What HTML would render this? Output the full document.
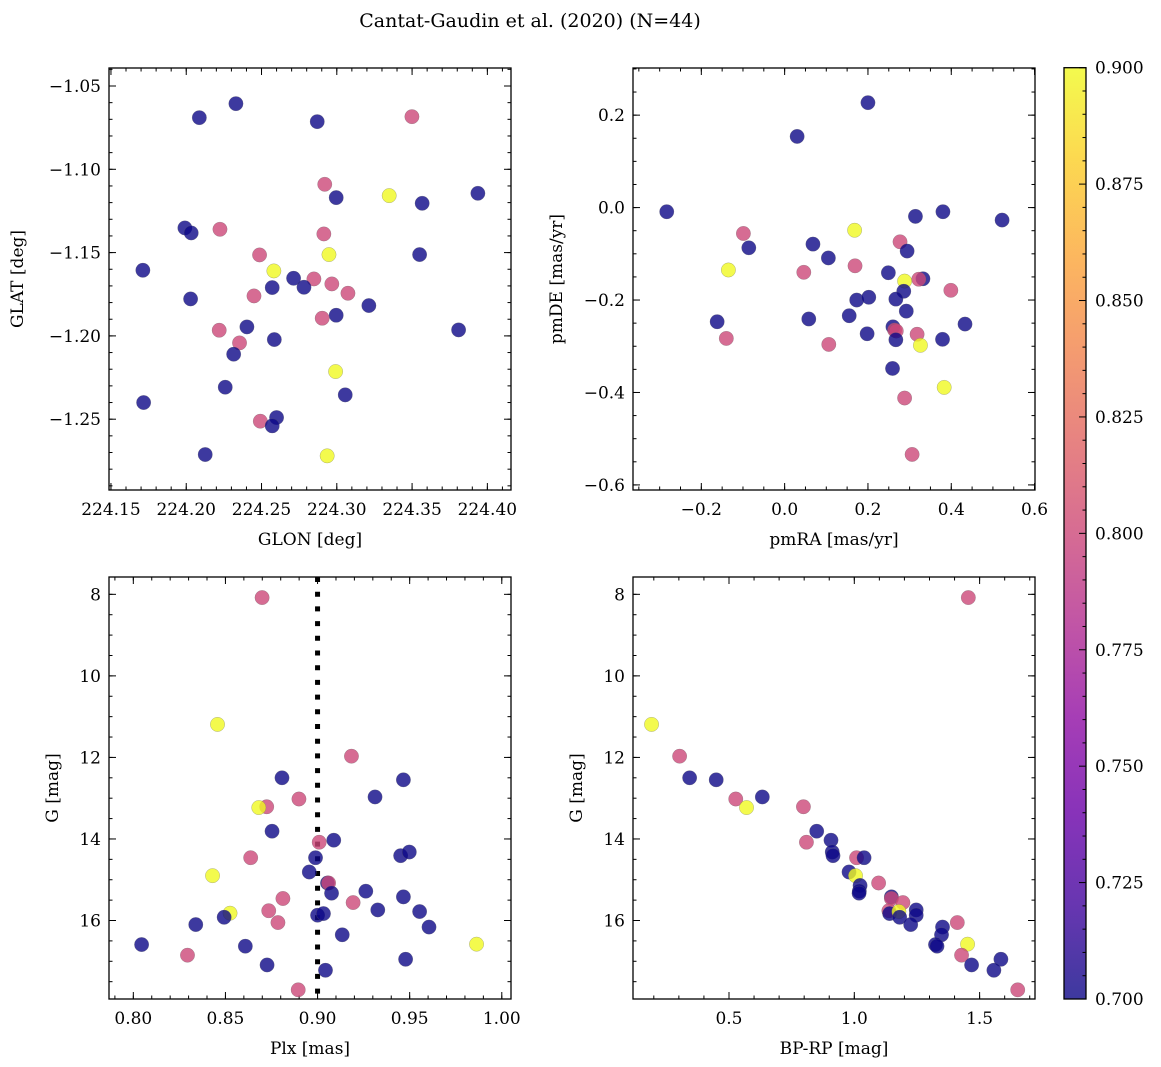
<!DOCTYPE html>
<html><head><meta charset="utf-8"><style>
body{margin:0;background:#fff}
svg{display:block;font-family:"DejaVu Serif","Liberation Serif",serif}
</style></head><body>
<svg id="fig" width="1161" height="1067" viewBox="0 0 1161 1067">
<defs>
<linearGradient id="plasma" x1="0" y1="1" x2="0" y2="0">
<stop offset="0" stop-color="#0d0887"/><stop offset="0.1" stop-color="#41049d"/><stop offset="0.2" stop-color="#6a00a8"/><stop offset="0.3" stop-color="#8f0da4"/><stop offset="0.4" stop-color="#b12a90"/><stop offset="0.5" stop-color="#cc4778"/><stop offset="0.6" stop-color="#e16462"/><stop offset="0.7" stop-color="#f2844b"/><stop offset="0.8" stop-color="#fca636"/><stop offset="0.9" stop-color="#fcce25"/><stop offset="1" stop-color="#f0f921"/>
</linearGradient>
</defs>
<text x="530" y="27" text-anchor="middle" font-size="19">Cantat-Gaudin et al. (2020) (N=44)</text>
</svg>
<script>
// Panel 1: GLON / GLAT
const p1x=[224.2087,224.233,224.287,224.3499,224.292,224.2996,224.3348,224.3567,224.3937,224.1991,224.2033,224.2224,224.2914,224.2487,224.2948,224.355,224.1712,224.2582,224.2713,224.2848,224.2571,224.2782,224.2967,224.3074,224.245,224.2029,224.3213,224.2996,224.2903,224.2403,224.2219,224.3809,224.2585,224.2354,224.2315,224.2992,224.3056,224.2259,224.1717,224.2492,224.26,224.2571,224.2126,224.2936];
const p1y=[-1.069,-1.0606,-1.0714,-1.0684,-1.109,-1.117,-1.1158,-1.1204,-1.1144,-1.1352,-1.1382,-1.136,-1.1388,-1.1514,-1.1512,-1.1512,-1.1606,-1.161,-1.1654,-1.1658,-1.171,-1.1708,-1.1688,-1.1744,-1.176,-1.1778,-1.1818,-1.1876,-1.1894,-1.1946,-1.1966,-1.1964,-1.2022,-1.2042,-1.211,-1.2214,-1.2354,-1.2308,-1.24,-1.2512,-1.249,-1.254,-1.2712,-1.272];
const p1c=[.7,.7,.7,.8,.8,.7,.9,.7,.7,.7,.7,.8,.8,.8,.9,.7,.7,.9,.7,.8,.7,.7,.8,.8,.8,.7,.7,.7,.8,.7,.8,.7,.7,.8,.7,.9,.7,.7,.7,.8,.7,.7,.7,.9];
// Panel 2: pmRA / pmDE
const p2x=[0.200,0.030,-0.283,0.314,0.380,0.522,0.168,-0.099,-0.086,0.068,0.277,0.294,0.105,-0.135,0.169,0.046,0.249,0.332,0.322,0.288,0.286,0.399,0.173,0.202,0.267,0.292,0.155,-0.162,0.058,0.433,0.260,0.264,0.268,0.198,0.318,0.267,0.379,-0.140,0.106,0.326,0.259,0.383,0.288,0.306];
const p2y=[0.227,0.154,-0.009,-0.019,-0.009,-0.027,-0.049,-0.056,-0.087,-0.079,-0.074,-0.094,-0.109,-0.135,-0.126,-0.140,-0.141,-0.154,-0.155,-0.159,-0.181,-0.179,-0.200,-0.194,-0.198,-0.224,-0.234,-0.247,-0.241,-0.252,-0.258,-0.265,-0.267,-0.273,-0.274,-0.286,-0.285,-0.283,-0.296,-0.298,-0.348,-0.389,-0.412,-0.534];
const p2c=[.7,.7,.7,.7,.7,.7,.9,.8,.7,.7,.8,.7,.7,.9,.8,.8,.7,.7,.8,.9,.7,.8,.7,.7,.7,.7,.7,.7,.7,.7,.7,.8,.8,.7,.8,.7,.7,.8,.8,.9,.7,.9,.8,.8];
// Panel 3: Plx / G
const p3x=[0.8699,0.8457,0.9184,0.8807,0.9466,0.9312,0.8899,0.8724,0.8681,0.8753,0.9088,0.9009,0.8637,0.8989,0.9451,0.9498,0.843,0.8955,0.9054,0.906,0.9076,0.9262,0.9466,0.8812,0.9193,0.8735,0.9327,0.9554,0.8525,0.8493,0.8785,0.90,0.9032,0.9605,0.8339,0.9134,0.8045,0.8608,0.9863,0.8294,0.9478,0.8726,0.9043,0.8895];
const p3y=[8.08,11.19,11.97,12.50,12.55,12.97,13.02,13.21,13.23,13.81,14.03,14.08,14.46,14.46,14.41,14.32,14.90,14.81,15.08,15.08,15.33,15.28,15.42,15.46,15.56,15.76,15.74,15.78,15.82,15.92,16.05,15.87,15.83,16.16,16.10,16.35,16.59,16.63,16.58,16.85,16.95,17.09,17.22,17.70];
const p3c=[.8,.9,.8,.7,.7,.7,.8,.8,.9,.7,.7,.8,.8,.7,.7,.7,.9,.7,.7,.8,.7,.7,.7,.8,.8,.8,.7,.7,.9,.7,.8,.7,.7,.7,.7,.7,.7,.7,.9,.8,.7,.7,.7,.8];
// Panel 4: BP-RP / G
const p4x=[1.455,0.191,0.303,0.343,0.449,0.633,0.527,0.570,0.797,0.850,0.907,0.809,0.912,0.915,1.009,1.039,0.979,1.005,1.023,1.020,1.019,1.097,1.148,1.148,1.194,1.138,1.141,1.247,1.247,1.178,1.181,1.225,1.352,1.348,1.411,1.324,1.330,1.452,1.428,1.585,1.468,1.557,1.652];
const p4y=[8.08,11.19,11.97,12.50,12.55,12.97,13.02,13.23,13.21,13.81,14.03,14.08,14.32,14.41,14.46,14.46,14.81,14.90,15.14,15.28,15.33,15.08,15.42,15.46,15.56,15.76,15.83,15.74,15.87,15.78,15.92,16.10,16.16,16.35,16.05,16.59,16.63,16.58,16.85,16.95,17.09,17.22,17.70];
const p4c=[.8,.9,.8,.7,.7,.7,.8,.9,.8,.7,.7,.8,.7,.7,.8,.7,.7,.9,.7,.7,.7,.8,.7,.8,.8,.8,.7,.7,.7,.9,.7,.7,.7,.7,.8,.7,.7,.9,.8,.7,.7,.7,.8];
const p1xt=[224.15,224.20,224.25,224.30,224.35,224.40];
const p1yt=[-1.05,-1.10,-1.15,-1.20,-1.25];
const p2xt=[-0.2,0.0,0.2,0.4,0.6];
const p2yt=[0.2,0.0,-0.2,-0.4,-0.6];
const p3xt=[0.80,0.85,0.90,0.95,1.00];
const p4xt=[0.5,1.0,1.5];
const gyt=[8,10,12,14,16];
const cbt=[0.700,0.725,0.750,0.775,0.800,0.825,0.850,0.875,0.900];
const plxRef=0.90;

const NS="http://www.w3.org/2000/svg";
const svg=document.getElementById('fig');
function mk(tag,attrs,parent){const e=document.createElementNS(NS,tag);for(const k in attrs)e.setAttribute(k,attrs[k]);(parent||svg).appendChild(e);return e;}
const stops=["#0d0887","#41049d","#6a00a8","#8f0da4","#b12a90","#cc4778","#e16462","#f2844b","#fca636","#fcce25","#f0f921"];
function h2r(h){return [1,3,5].map(i=>parseInt(h.substr(i,2),16));}
function plasma(v){let t=Math.max(0,Math.min(1,(v-0.7)/0.2))*10;const i=Math.min(9,Math.floor(t)),f=t-i;const a=h2r(stops[i]),b=h2r(stops[i+1]);return 'rgb('+a.map((x,k)=>Math.round(x+(b[k]-x)*f)).join(',')+')';}

function panel(o){
  const g=mk('g',{});
  
  
  const sx=v=>o.L+(v-o.x0)/(o.x1-o.x0)*(o.R-o.L);
  const sy=v=>o.T+(v-o.y0)/(o.y1-o.y0)*(o.B-o.T);
  // minor ticks
  const tg=mk('g',{stroke:'#000','stroke-width':1},g);
  
  
  function ticksX(step,len){const s=Math.ceil(Math.min(o.x0,o.x1)/step-1e-6);for(let k=s;k*step<=Math.max(o.x0,o.x1)+1e-9;k++){const x=sx(k*step);mk('line',{x1:x,x2:x,y1:o.B,y2:o.B-len},tg);mk('line',{x1:x,x2:x,y1:o.T,y2:o.T+len},tg);}}
  function ticksY(step,len){const lo=Math.min(o.y0,o.y1),hi=Math.max(o.y0,o.y1);const s=Math.ceil(lo/step-1e-6);for(let k=s;k*step<=hi+1e-9;k++){const y=sy(k*step);mk('line',{x1:o.L,x2:o.L+len,y1:y,y2:y},tg);mk('line',{x1:o.R,x2:o.R-len,y1:y,y2:y},tg);}}
  ticksX(o.xminor,3.5);ticksY(o.yminor,3.5);
  o.xt.forEach(v=>{const x=sx(v);mk('line',{x1:x,x2:x,y1:o.B,y2:o.B-7},tg);mk('line',{x1:x,x2:x,y1:o.T,y2:o.T+7},tg);
    const t=mk('text',{x:x,y:o.B+25,'text-anchor':'middle','font-size':17},g);t.textContent=o.xf(v).replace('-','\u2212');
    
    });
  o.yt.forEach(v=>{const y=sy(v);mk('line',{x1:o.L,x2:o.L+7,y1:y,y2:y},tg);mk('line',{x1:o.R,x2:o.R-7,y1:y,y2:y},tg);
    const t=mk('text',{x:o.L-8,y:y+6,'text-anchor':'end','font-size':17},g);t.textContent=o.yf(v).replace('-','\u2212');
    
    });
  if(o.vline!==undefined){const l=mk('line',{x1:sx(o.vline),x2:sx(o.vline),y1:o.T,y2:o.B,stroke:'#000','stroke-width':5,'stroke-dasharray':'5 9.7'},g);
    
    }
  const pg=mk('g',{},g);
  
  
  o.xs.forEach((xv,i)=>{const c=mk('circle',{cx:sx(xv),cy:sy(o.ys[i]),r:7.2,fill:plasma(o.cs[i]),'fill-opacity':0.8,stroke:'#666','stroke-opacity':0.5,'stroke-width':0.5},pg);
    
    });
  const fr=mk('rect',{x:o.L,y:o.T,width:o.R-o.L,height:o.B-o.T,fill:'none',stroke:'#000','stroke-width':1.3},g);
  
  
  const xl=mk('text',{x:(o.L+o.R)/2,y:o.B+55,'text-anchor':'middle','font-size':17},g);xl.textContent=o.xlab;
  
  
  const yl=mk('text',{x:0,y:0,'text-anchor':'middle','font-size':17,transform:'translate('+o.ylx+','+(o.T+o.B)/2+') rotate(-90)'},g);yl.textContent=o.ylab;
  
  
}
const f2=v=>v.toFixed(2), f1=v=>v.toFixed(1), f0=v=>v.toFixed(0);
panel({name:'glon-glat-panel',L:109,R:511,T:68,B:490,x0:224.1487,x1:224.4157,y0:-1.0392,y1:-1.2925,xs:p1x,ys:p1y,cs:p1c,xt:p1xt,yt:p1yt,xminor:0.01,yminor:0.01,xf:f2,yf:f2,xlab:'GLON [deg]',ylab:'GLAT [deg]',ylx:23});
panel({name:'pm-panel',L:633,R:1035,T:68,B:490,x0:-0.364,x1:0.601,y0:0.302,y1:-0.611,xs:p2x,ys:p2y,cs:p2c,xt:p2xt,yt:p2yt,xminor:0.05,yminor:0.05,xf:f1,yf:f1,xlab:'pmRA [mas/yr]',ylab:'pmDE [mas/yr]',ylx:562});
panel({name:'plx-g-panel',L:109,R:511,T:577,B:999,x0:0.7868,x1:1.0050,y0:7.575,y1:17.925,xs:p3x,ys:p3y,cs:p3c,xt:p3xt,yt:gyt,xminor:0.01,yminor:0.5,xf:f2,yf:f0,xlab:'Plx [mas]',ylab:'G [mag]',ylx:58,vline:plxRef});
panel({name:'cmd-panel',L:633,R:1035,T:577,B:999,x0:0.117,x1:1.721,y0:7.575,y1:17.925,xs:p4x,ys:p4y,cs:p4c,xt:p4xt,yt:gyt,xminor:0.1,yminor:0.5,xf:f1,yf:f0,xlab:'BP-RP [mag]',ylab:'G [mag]',ylx:582});
// colorbar
const cb=mk('g',{});


const CT=67.7,CB=999,CL=1064,CR=1086;
const cby=v=>CB-(v-0.7)/0.2*(CB-CT);
mk('rect',{x:CL,y:CT,width:CR-CL,height:CB-CT,fill:'url(#plasma)','fill-opacity':0.8},cb);
for(let k=0;k<=40;k++){const v=0.7+k*0.005,y=cby(v);const major=k%5===0;mk('line',{x1:CR,x2:CR-(major?7:3.5),y1:y,y2:y,stroke:'#000','stroke-width':1},cb);}
cbt.forEach(v=>{const t=mk('text',{x:1095,y:cby(v)+6,'font-size':17},cb);t.textContent=v.toFixed(3);
  
  });
mk('rect',{x:CL,y:CT,width:CR-CL,height:CB-CT,fill:'none',stroke:'#000','stroke-width':1.3},cb);
</script>
</body></html>
